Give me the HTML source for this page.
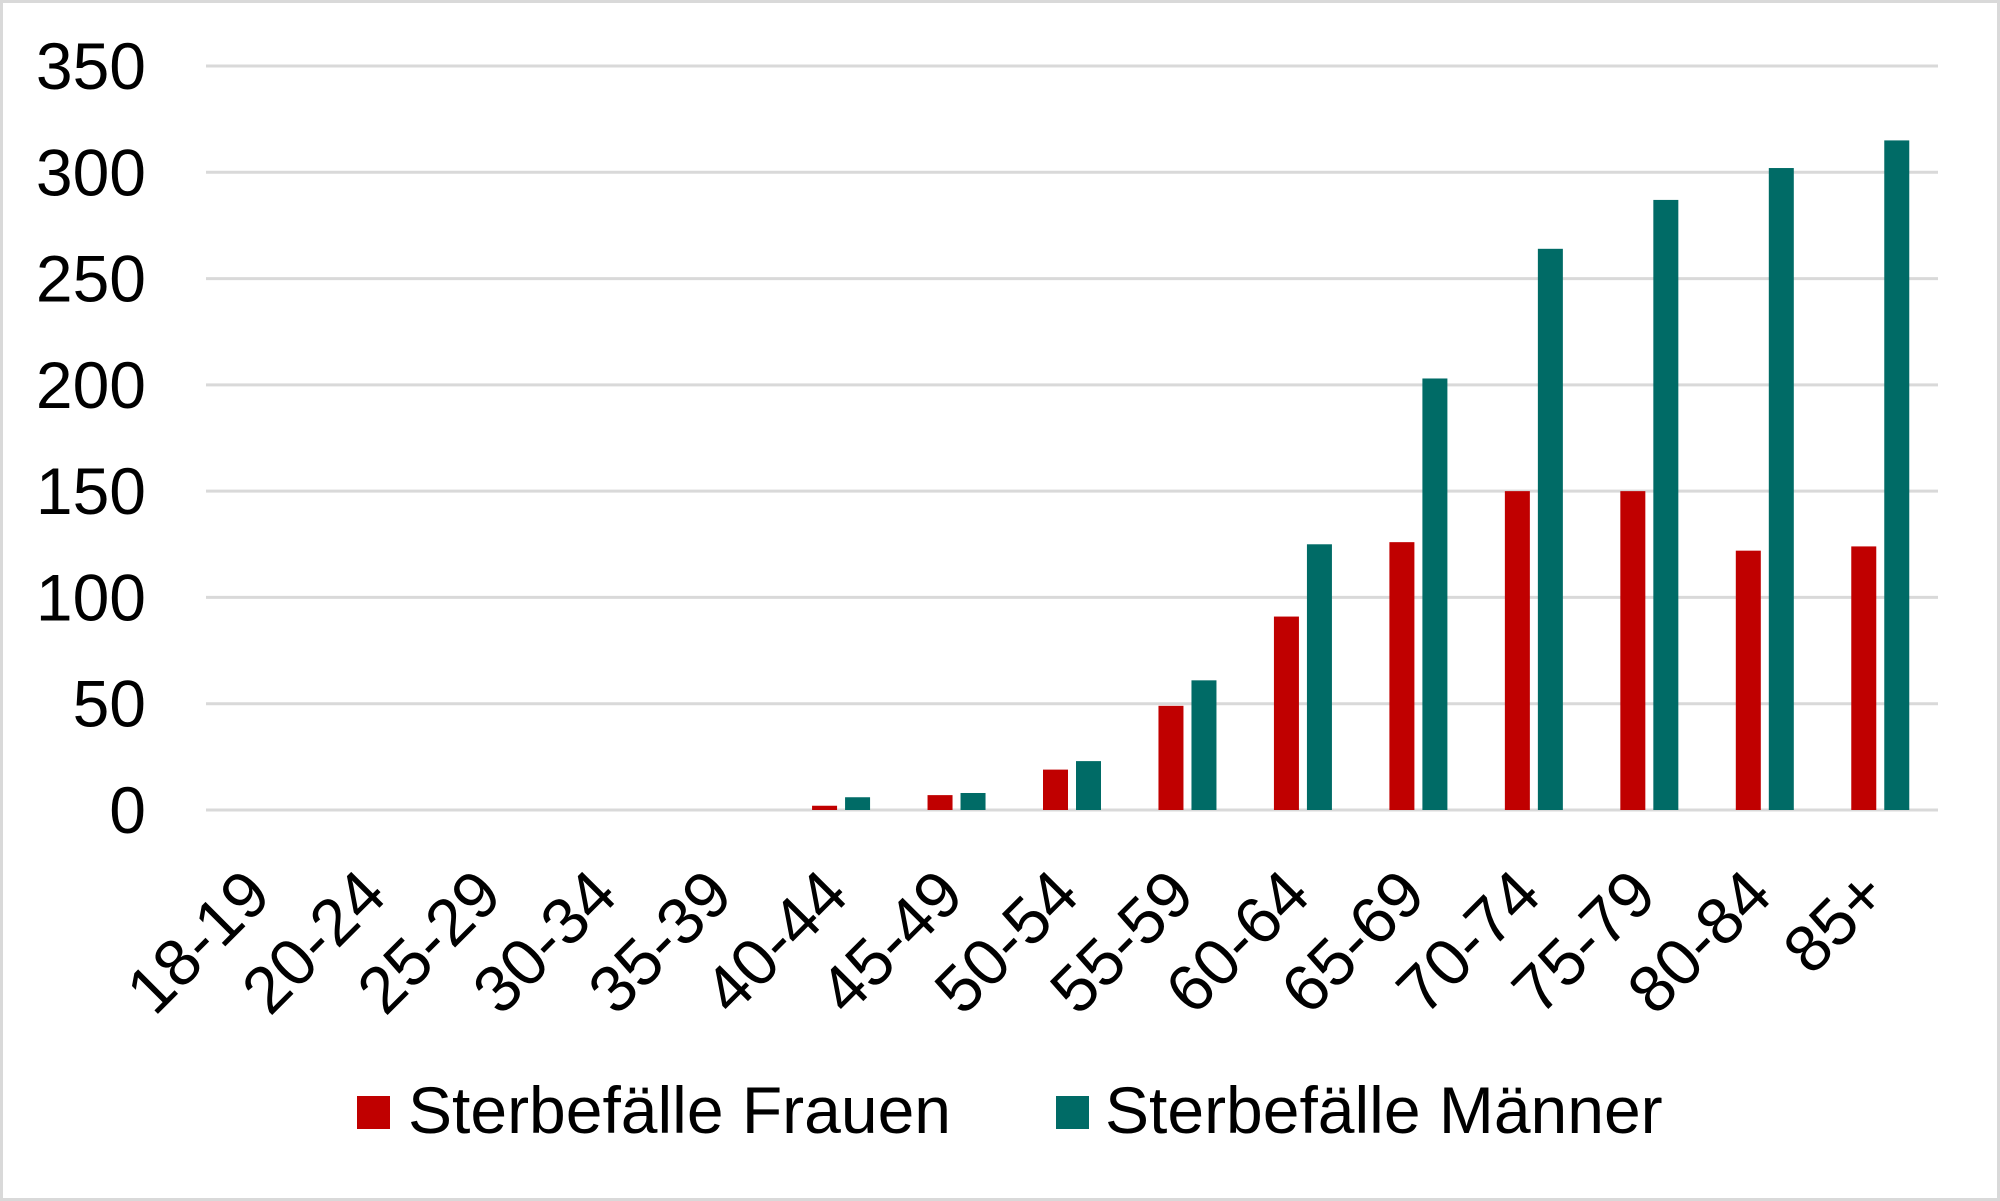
<!DOCTYPE html>
<html><head><meta charset="utf-8"><style>
html,body{margin:0;padding:0;background:#fff;}
svg{display:block;font-family:"Liberation Sans",Arial,sans-serif;}
</style></head><body>
<svg id="chart" width="2000" height="1201" viewBox="0 0 2000 1201" xmlns="http://www.w3.org/2000/svg">
<rect x="1.5" y="1.5" width="1997" height="1198" fill="#fff" stroke="#d9d9d9" stroke-width="3"/>
<g id="grid"></g><g id="bars"></g><g id="yticks"></g><g id="xticks"></g>
<g>
<rect x="357" y="1096" width="33" height="33" fill="#c00000"/>
<text x="408" y="1133" font-size="66">Sterbefälle Frauen</text>
<rect x="1056" y="1096" width="33" height="33" fill="#006b66"/>
<text x="1105" y="1133" font-size="66">Sterbefälle Männer</text>
</g>
</svg>
<script>
const categories = ["18-19","20-24","25-29","30-34","35-39","40-44","45-49","50-54","55-59","60-64","65-69","70-74","75-79","80-84","85+"];
const frauen = [0,0,0,0,0,2,7,19,49,91,126,150,150,122,124];
const maenner = [0,0,0,0,0,6,8,23,61,125,203,264,287,302,315];
const yTicks = [0,50,100,150,200,250,300,350];

const SVGNS="http://www.w3.org/2000/svg";
const plotLeft=206,plotRight=1938,plotTop=66,plotBottom=810,yMax=350;
const band=(plotRight-plotLeft)/categories.length;
const yScale=v=>plotBottom-(v/yMax)*(plotBottom-plotTop);
const xCenter=i=>plotLeft+band*(i+0.5);
function mk(tag,attrs,parent){const e=document.createElementNS(SVGNS,tag);for(const k in attrs)e.setAttribute(k,attrs[k]);parent.appendChild(e);return e;}
const gGrid=document.getElementById('grid'),gBars=document.getElementById('bars'),gY=document.getElementById('yticks'),gX=document.getElementById('xticks');
yTicks.forEach(t=>{
  const l=mk('line',{x1:plotLeft,x2:plotRight,y1:yScale(t),y2:yScale(t),stroke:'#d9d9d9','stroke-width':3},gGrid);
  
  
  const tx=mk('text',{x:146,y:yScale(t)+23,'font-size':66,'text-anchor':'end'},gY);
  tx.textContent=t;
  
  
});
const bw=25,gap=8;
categories.forEach((c,i)=>{
  const cx=xCenter(i);
  if(frauen[i]>0){
    const r=mk('rect',{x:cx-gap/2-bw,y:yScale(frauen[i]),width:bw,height:plotBottom-yScale(frauen[i]),fill:'#c00000'},gBars);
    
    
  }
  if(maenner[i]>0){
    const r=mk('rect',{x:cx+gap/2,y:yScale(maenner[i]),width:bw,height:plotBottom-yScale(maenner[i]),fill:'#006b66'},gBars);
    
    
  }
  const ax=cx+10,ay=898;
  const t=mk('text',{x:ax,y:ay,'font-size':66,'text-anchor':'end',transform:'rotate(-45 '+ax+' '+ay+')'},gX);
  t.textContent=c;
  
  
});
</script>
</body></html>
